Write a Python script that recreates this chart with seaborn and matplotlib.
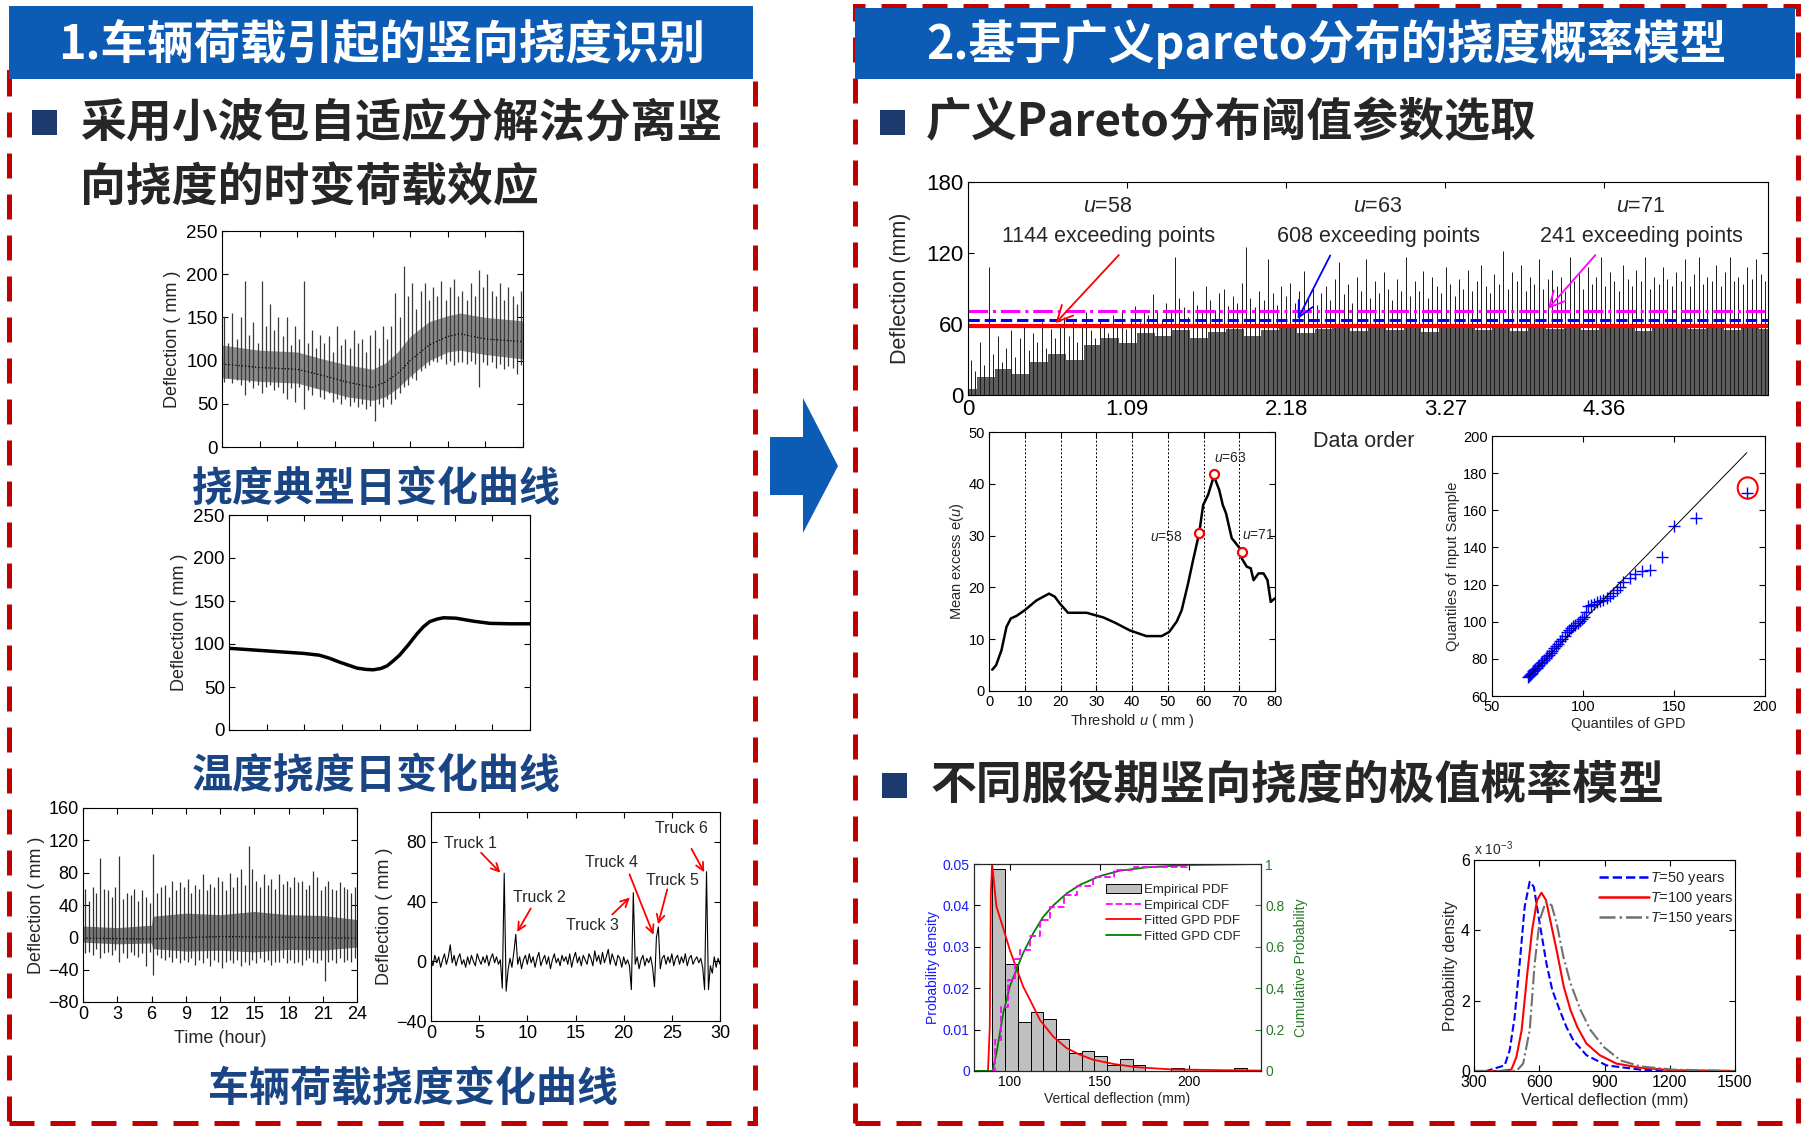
#Recreates the two-panel bridge deflection summary slide
import numpy as np
import matplotlib
matplotlib.use("Agg")
from matplotlib import pyplot as plt
import matplotlib.patches as mpatches
from matplotlib.lines import Line2D
import seaborn as sns

#------------------------------------------------
#values

#typical daily deflection (top left), 24 h
day_trend_t = [0, 3, 6, 8, 10, 12, 13, 14, 15, 16.5, 18, 19, 21, 24]
day_trend_v = [96, 92, 90, 83, 75, 69, 75, 85, 100, 118, 128, 131, 125, 122]
day_band_lo = [80, 76, 74, 66, 58, 54, 58, 68, 82, 100, 110, 112, 107, 102]
day_band_hi = [118, 112, 110, 102, 95, 90, 97, 110, 128, 145, 152, 155, 150, 146]
day_spike_hi = [150, 120, 155, 125, 150, 192, 130, 145, 120, 192, 140, 165,
                135, 150, 128, 150, 118, 140, 125, 192, 120, 135, 115, 130,
                120, 128, 110, 140, 118, 125, 115, 135, 120, 125, 110, 130,
                135, 115, 140, 125, 140, 178, 150, 210, 175, 190, 160, 180,
                190, 170, 185, 175, 192, 170, 185, 195, 175, 180, 170, 190,
                175, 205, 185, 200, 180, 175, 190, 170, 185, 175, 165, 180]
day_spike_lo = [75, 80, 74, 78, 72, 60, 75, 68, 72, 62, 70, 72,
                66, 70, 62, 55, 68, 52, 70, 44, 66, 60, 68, 58,
                56, 62, 52, 55, 50, 56, 48, 52, 46, 50, 44, 48,
                30, 50, 46, 55, 50, 56, 62, 70, 72, 80, 78, 88,
                92, 95, 100, 98, 102, 96, 100, 95, 98, 98, 96, 100,
                96, 70, 98, 95, 98, 92, 96, 90, 94, 92, 85, 95]

#temperature deflection (middle left)
temp_t = [0, 1.5, 3, 4.5, 6, 7.2, 8.0, 8.8, 9.5, 10.2, 10.9, 11.5, 12.1, 12.6,
          13.1, 13.6, 14.3, 15.0, 15.5, 16.0, 16.6, 17.1, 18.1, 19.5, 20.8, 22.4, 24]
temp_v = [95, 93.5, 92, 90.5, 89, 87, 83.5, 79, 75.5, 72, 70.5, 70, 71.5, 74.5,
          80.5, 87, 99, 112, 120, 126, 129, 130.5, 130, 126.5, 124, 123.5, 123.5]

#vehicle deflection over 24 h (bottom left)
veh_trend_t = [0, 6, 12, 18, 24]
veh_trend_v = [-1, -2, 1, 0, -1]
veh_band_t = [0, 3, 6, 6.1, 9, 12, 15, 18, 21, 24]
veh_band_lo = [-6, -8, -7, -14, -17, -16, -18, -15, -16, -12]
veh_band_hi = [14, 12, 15, 26, 30, 28, 32, 28, 27, 22]
veh_spike_hi = [60, 45, 62, 55, 98, 60, 58, 50, 62, 101, 48, 55,
                52, 60, 45, 58, 50, 42, 103, 55, 62, 65, 50, 70,
                58, 68, 62, 72, 55, 65, 60, 78, 58, 66, 62, 75,
                70, 58, 80, 62, 75, 85, 65, 113, 84, 70, 62, 78,
                65, 72, 60, 78, 66, 70, 62, 75, 68, 70, 60, 65,
                82, 75, 58, 63, 70, 60, 59, 68, 62, 60, 55, 62]
veh_spike_lo = [-20, -18, -22, -15, -25, -20, -18, -22, -16, -30, -20, -25,
                -18, -22, -24, -20, -35, -18, -46, -22, -25, -28, -24, -30,
                -26, -32, -28, -30, -25, -34, -28, -32, -26, -36, -28, -30,
                -38, -30, -28, -32, -28, -35, -30, -34, -28, -32, -26, -30,
                -28, -34, -30, -30, -26, -32, -28, -32, -30, -34, -28, -26,
                -30, -32, -28, -54, -30, -28, -32, -26, -30, -28, -30, -25]

#30 s record with truck passages (bottom left), one value every 0.2 s
truck_v = [2, -3, 4, -1, 3, -4, 1, 5, -2, 3,
           11, -1, 4, -3, 2, 5, -2, 1, -4, 3,
           -2, 4, 0, -3, 5, 1, -2, 3, -1, 4,
           -3, 2, 5, -1, 3, -2, 1, -18, 59, -20,
           -6, 2, -4, 6, 18, -2, 3, -5, 1, 4,
           -2, 5, -1, 3, -4, 2, 6, -3, 1, 4,
           -2, 3, -5, 1, 5, -1, 2, -3, 4, 0,
           3, -2, 5, -4, 2, 6, -1, 3, -3, 4,
           1, -2, 5, 2, -3, 7, 0, 4, -2, 6,
           -1, 3, 8, -2, 5, 1, -3, 4, 2, -4,
           3, -2, 1, -3, -19, 46, -2, 3, -5, 1,
           4, -3, 2, -1, 3, -4, -17, 16, 23, -5,
           2, 4, -2, 3, -1, 5, -3, 2, 4, -2,
           3, -1, 5, -3, 2, 4, -2, 1, 3, -1,
           2, -4, -19, 60, -19, -3, -8, 3, -4, 2,
           -2]
truck_names = ["Truck 1", "Truck 2", "Truck 3", "Truck 4", "Truck 5", "Truck 6"]
truck_text_xy = [(4.1, 79), (11.3, 43), (16.8, 24), (18.7, 66), (25.1, 54), (26.0, 89)]
truck_tail = [(5.0, 74), (10.5, 37), (18.6, 30), (20.5, 60), (24.6, 50), (26.9, 77)]
truck_head = [(7.4, 58), (8.8, 18), (20.85, 44), (23.2, 16), (23.5, 23), (28.5, 58)]

#data order record for threshold selection (top right)
order_max = 5.48
order_ticks = [0, 1.09, 2.18, 3.27, 4.36]
order_floor_v = [5, 15, 22, 18, 28, 35, 30, 42, 48, 44, 52, 50, 55, 48, 53, 56,
                 50, 55, 57, 52, 56, 58, 54, 57, 55, 58, 53, 57, 59, 55, 57, 54,
                 58, 56, 59, 55, 57, 58, 54, 57, 59, 56, 58, 55, 57, 56]
order_spikes = [30, 20, 45, 25, 108, 35, 50, 28, 40, 55, 32, 48, 60, 38, 52, 45, 62, 40, 56, 48,
                58, 66, 50, 62, 45, 60, 70, 55, 48, 64, 58, 52, 68, 60, 72, 56, 65, 75, 62, 70,
                68, 85, 72, 64, 78, 70, 117, 82, 74, 66, 88, 76, 70, 92, 80, 72, 86, 90, 75, 84,
                78, 95, 125, 82, 74, 88, 80, 115, 86, 76, 92, 84, 95, 78, 88, 105, 82, 90, 76, 86,
                92, 80, 98, 112, 85, 94, 78, 100, 88, 115, 82, 96, 86, 104, 90, 80, 98, 88, 117, 84,
                96, 88, 105, 82, 100, 92, 86, 108, 94, 84, 98, 90, 106, 88, 96, 110, 92, 86, 102, 94,
                122, 90, 104, 96, 110, 88, 100, 94, 115, 90, 98, 106, 92, 100, 88, 117, 96, 102, 90, 108,
                94, 100, 117, 92, 104, 96, 88, 110, 98, 92, 106, 96, 117, 90, 100, 94, 108, 98, 92, 104,
                96, 115, 92, 102, 117, 94, 100, 96, 110, 92, 104, 117, 96, 100, 94, 108, 98, 115, 102, 96]
thresholds = [58, 63, 71]
thr_counts = [1144, 608, 241]
thr_text_x = [0.96, 2.81, 4.61]
thr_tail = [(1.046, 120), (2.49, 120), (4.31, 120)]
thr_head = [(0.587, 59), (2.25, 62), (3.96, 71)]

#mean excess curve
me_u = [0.9, 2, 3.5, 4.9, 6.1, 7.7, 10, 13.3, 16.8, 18.4, 19.8, 22.1, 27.3, 32, 35.2,
        39.4, 44, 48.3, 50.4, 52.5, 53.9, 55.7, 57.1, 58.8, 59.9, 61.3, 62.9, 64.4,
        65.4, 66.3, 67.9, 70.2, 70.7, 72.1, 73.2, 74, 75.4, 76.8, 77.9, 78.8, 80]
me_e = [4.1, 5, 7.9, 12.4, 14, 14.5, 15.6, 17.5, 18.8, 18.2, 16.9, 15.1, 15.1, 14.2, 13.2,
        11.7, 10.6, 10.6, 11.4, 13.4, 15.6, 20.8, 25.3, 30.5, 35.9, 37.9, 41.5, 38.8,
        35.9, 34.3, 29.5, 27.5, 25.6, 24, 23.7, 21.4, 22.7, 22.7, 21.4, 17.2, 17.9]
me_pick_u = [58.8, 62.9, 70.8]
me_pick_e = [30.5, 41.9, 26.9]

#QQ plot against the GPD
qq_x = [70, 70.5, 71, 71.5, 72, 72.6, 73.2, 73.8, 74.5, 75.2, 76, 76.8, 77.6, 78.5, 79.4,
        80.3, 81.2, 82.2, 83.2, 84.2, 85.3, 86.4, 87.5, 88.7, 89.9, 91, 92.2, 93.4, 94.6,
        95.8, 97, 98.2, 99.4, 100.6, 101.8, 103, 104.3, 105.8, 107.6, 109.4, 111.2, 113,
        114.9, 116.7, 118.5, 120.4, 122.2, 125.9, 128.6, 132.3, 136.8, 143.6, 150.2, 162.1, 189.9]
qq_y = [70.5, 71, 71.5, 72, 72.6, 73.2, 73.8, 74.5, 75.2, 76, 76.8, 77.6, 78.5, 79.4, 80.3,
        81.3, 82.3, 83.3, 84.4, 85.6, 86.8, 88, 89.4, 90.8, 92.5, 94.3, 95.5, 96.6, 97.6,
        98.5, 99.4, 100.3, 101.2, 102.4, 105.3, 108.5, 109.2, 109.8, 110.4, 111, 111.8, 112.8,
        114, 115.5, 117, 118.5, 121.5, 123.5, 125.5, 127.4, 127.8, 135, 151.7, 156, 169.2]
qq_ref_x = [70, 190]
qq_ref_y = [70.5, 191]

#GPD fit of the exceedances
hist_start = 90.3
hist_bin = 7.1
hist_h = [0.0487, 0.0258, 0.0118, 0.0142, 0.0125, 0.0077, 0.0044, 0.0049, 0.0036, 0.0014,
          0.0028, 0.0014, 0, 0, 0.0008, 0.0006, 0, 0, 0, 0.0008]
pdf_x = [80, 87.8, 88.8, 89.4, 90.1, 92.5, 96.3, 100, 103.7, 107.4, 111.2, 116.8, 124.2,
         131.7, 139.2, 146.6, 157.8, 170.9, 189.5, 217.5, 240]
pdf_y = [0, 0, 0.0107, 0.043, 0.05, 0.0397, 0.0345, 0.0292, 0.0248, 0.0204, 0.0172, 0.0123,
         0.0083, 0.0055, 0.0039, 0.0027, 0.0017, 0.0009, 0.0004, 0.0002, 0.0001]
cdf_x = [80, 90.3, 92.5, 96.3, 100, 103.7, 107.4, 113, 118.6, 124.2, 131.7, 139.2, 150.3,
         161.5, 176.5, 198.8, 240]
cdf_y = [0, 0, 0.085, 0.28, 0.41, 0.49, 0.57, 0.665, 0.745, 0.80, 0.858, 0.90, 0.942,
         0.968, 0.984, 0.995, 1]
ecdf_x = [90.3, 91.6, 95.3, 99, 102.7, 105.5, 111.2, 116.8, 122.4, 129.9, 137.4, 146.6,
          157.8, 169, 198.8]
ecdf_y = [0, 0.15, 0.31, 0.44, 0.54, 0.585, 0.65, 0.73, 0.79, 0.85, 0.894, 0.936, 0.97, 0.987, 1]

#extreme value densities for service periods (x 1e-3)
ev50_x = [300, 356.8, 441, 464, 487, 510, 533, 556, 575, 602, 633, 660, 694, 725, 757, 817, 909, 1063, 1216, 1500]
ev50_y = [0, 0, 0.16, 0.59, 1.54, 3.06, 4.67, 5.38, 5.24, 4.2, 3.06, 2.30, 1.73, 1.25, 0.87, 0.45, 0.16, 0.04, 0, 0]
ev100_x = [300, 418, 472, 495, 519, 545, 567, 590, 610, 631, 657, 683, 713, 744, 775, 817, 878, 955, 1063, 1216, 1500]
ev100_y = [0, 0, 0.04, 0.4, 1.16, 2.77, 4.0, 4.86, 5.07, 4.86, 4.1, 3.34, 2.39, 1.73, 1.25, 0.78, 0.45, 0.21, 0.095, 0.02, 0]
ev150_x = [300, 495, 526, 556, 579, 602, 630, 657, 680, 711, 744, 790, 836, 897, 974, 1066, 1216, 1500]
ev150_y = [0, 0, 0.21, 1.16, 3.06, 4.29, 4.81, 4.71, 4.2, 3.25, 2.49, 1.73, 1.16, 0.68, 0.30, 0.13, 0.04, 0]
ev_labels = ["$T$=50 years", "$T$=100 years", "$T$=150 years"]

#------------------------------------------------
W, H = 1816, 1138
sns.set_style("ticks")
plt.rcParams['font.family'] = ['Liberation Sans', 'Noto Sans CJK SC', 'DejaVu Sans']
plt.rcParams['mathtext.fontset'] = 'custom'
plt.rcParams['mathtext.rm'] = 'Liberation Sans'
plt.rcParams['mathtext.it'] = 'Liberation Sans:italic'
plt.rcParams['axes.linewidth'] = 0.8

fig = plt.figure(figsize=(W / 100, H / 100), dpi=100)
fig.patch.set_facecolor('white')

CJK = 'Noto Sans CJK SC'
NAVY = '#1a4585'


def box(x0, y0, x1, y1):
    #axes from pixel corners of the slide
    return fig.add_axes([x0 / W, 1 - y1 / H, (x1 - x0) / W, (y1 - y0) / H])


def rect(x0, y0, x1, y1, **kw):
    fig.add_artist(mpatches.Rectangle((x0 / W, 1 - y1 / H), (x1 - x0) / W, (y1 - y0) / H,
                                      transform=fig.transFigure, **kw))


def ftext(x, y, s, **kw):
    fig.text(x / W, 1 - y / H, s, **kw)


def matlab(ax, size):
    ax.tick_params(direction='in', top=True, right=True, labelsize=size,
                   length=4, width=0.8, pad=3, colors='black')
    for s in ax.spines.values():
        s.set_color('black')
        s.set_linewidth(0.8)


#slide frame: dashed boxes, headers, arrow, bullets
dash = dict(fill=False, edgecolor='#c00000', lw=3.6, ls=(0, (5, 3.2)), zorder=1)
rect(9, 72, 755, 1123, **dash)
rect(855, 6, 1798, 1123, **dash)
rect(9, 6, 753, 79, facecolor='#0c5cb5', edgecolor='none', zorder=2)
rect(855, 8, 1795, 79, facecolor='#0c5cb5', edgecolor='none', zorder=2)
ftext(382, 44, '1.车辆荷载引起的竖向挠度识别', family=CJK, weight='heavy', size=33.5,
      color='white', ha='center', va='center', zorder=3)
ftext(1326, 44, '2.基于广义pareto分布的挠度概率模型', family=CJK, weight='heavy', size=33.5,
      color='white', ha='center', va='center', zorder=3)
arrow_px = [(770, 437), (803, 437), (803, 398), (838, 466), (803, 533), (803, 495), (770, 495)]
fig.add_artist(mpatches.Polygon([(x / W, 1 - y / H) for x, y in arrow_px], closed=True,
                                transform=fig.transFigure, facecolor='#0c5cb5', edgecolor='none'))
for bx, by in [(32, 110), (880, 110), (882, 773)]:
    rect(bx, by, bx + 25, by + 25, facecolor='#1c3a6e', edgecolor='none', zorder=2)
ftext(80, 123, '采用小波包自适应分解法分离竖', family=CJK, weight='heavy', size=33, va='center')
ftext(80, 188, '向挠度的时变荷载效应', family=CJK, weight='heavy', size=33, va='center')
ftext(926, 123, '广义Pareto分布阈值参数选取', family=CJK, weight='heavy', size=33, va='center')
ftext(930, 786, '不同服役期竖向挠度的极值概率模型', family=CJK, weight='heavy', size=33, va='center')

#------------------------------------------------
#top left: typical daily deflection
ax = box(222, 231, 523, 447)
spike_t = np.arange(len(day_spike_hi)) / 3 + 1 / 6
ax.fill_between(day_trend_t, day_band_lo, day_band_hi, color='#8a8a8a', lw=0)
ax.vlines(spike_t, day_spike_lo, day_spike_hi, color='#3a3a3a', lw=0.9)
sns.lineplot(x=day_trend_t, y=day_trend_v, ax=ax, color='black', lw=0.9, linestyle=':')
ax.set(xlim=(0, 24), ylim=(0, 250), xticks=range(0, 25, 3), yticks=range(0, 251, 50))
ax.set_xticklabels([])
ax.set_ylabel('Deflection ( mm )', fontsize=13)
matlab(ax, 13.5)
ftext(376, 489, '挠度典型日变化曲线', family=CJK, weight='heavy', size=29.5,
      color=NAVY, ha='center', va='center', zorder=3)

#middle left: temperature induced deflection
ax = box(229, 515, 530, 730)
sns.lineplot(x=temp_t, y=temp_v, ax=ax, color='black', lw=2.5)
ax.set(xlim=(0, 24), ylim=(0, 250), xticks=range(0, 25, 3), yticks=range(0, 251, 50))
ax.set_xticklabels([])
ax.set_ylabel('Deflection ( mm )', fontsize=13)
matlab(ax, 13.5)
ftext(376, 776, '温度挠度日变化曲线', family=CJK, weight='heavy', size=29.5,
      color=NAVY, ha='center', va='center', zorder=3)

#bottom left: vehicle deflection over a day
ax = box(83, 808, 357, 1002)
spike_t = np.arange(len(veh_spike_hi)) / 3 + 1 / 6
ax.fill_between(veh_band_t, veh_band_lo, veh_band_hi, color='#7a7a7a', lw=0)
ax.vlines(spike_t, veh_spike_lo, veh_spike_hi, color='#333333', lw=0.9)
sns.lineplot(x=veh_trend_t, y=veh_trend_v, ax=ax, color='black', lw=0.9, linestyle=':')
ax.set(xlim=(0, 24), ylim=(-80, 160), xticks=range(0, 25, 3), yticks=range(-80, 161, 40))
ax.set_xlabel('Time (hour)', fontsize=13, labelpad=5)
ax.set_ylabel('Deflection ( mm )', fontsize=13, labelpad=2)
matlab(ax, 13)

#bottom left: 30 s record with trucks
ax = box(431, 812, 720, 1021)
truck_t = np.arange(len(truck_v)) * 0.2
sns.lineplot(x=truck_t, y=truck_v, ax=ax, color='black', lw=0.8)
for name, txy, tail, head in zip(truck_names, truck_text_xy, truck_tail, truck_head):
    ax.text(txy[0], txy[1], name, fontsize=11.5, ha='center', va='center')
    ax.annotate('', xy=head, xytext=tail,
                arrowprops=dict(arrowstyle='->', color='red', lw=1.3, mutation_scale=14))
ax.set(xlim=(0, 30), ylim=(-40, 100), xticks=range(0, 31, 5), yticks=[-40, 0, 40, 80])
ax.set_ylabel('Deflection ( mm )', fontsize=13, labelpad=2)
matlab(ax, 13)
ftext(413, 1089, '车辆荷载挠度变化曲线', family=CJK, weight='heavy', size=29.5,
      color=NAVY, ha='center', va='center', zorder=3)

#------------------------------------------------
#top right: thresholds over the data order record
ax = box(968, 182, 1768, 395)
floor_x = np.linspace(0, order_max, len(order_floor_v))
spike_x = np.linspace(0.02, order_max - 0.02, len(order_spikes))
ax.fill_between(floor_x, 0, order_floor_v, color='#5c5c5c', lw=0, step='mid')
ax.vlines(spike_x, 0, order_spikes, color='#1a1a1a', lw=0.7)
ax.axhline(thresholds[2], color='magenta', lw=2.2, ls='-.')
ax.axhline(thresholds[1], color='blue', lw=2.2, ls='--')
ax.axhline(thresholds[0], color='red', lw=3)
arrow_cols = ['red', 'blue', 'magenta']
for u, n, tx, tail, head, c in zip(thresholds, thr_counts, thr_text_x, thr_tail, thr_head, arrow_cols):
    ax.text(tx, 159, f'$u$={u}', fontsize=15.5, ha='center', va='center')
    ax.text(tx, 134, f'{n} exceeding points', fontsize=15.5, ha='center', va='center')
    ax.annotate('', xy=head, xytext=tail,
                arrowprops=dict(arrowstyle='->', color=c, lw=1.3, mutation_scale=28))
ax.set(xlim=(0, order_max), ylim=(0, 180), xticks=order_ticks, yticks=[0, 60, 120, 180])
ax.set_xticklabels(['0', '1.09', '2.18', '3.27', '4.36'])
ax.set_xlabel('Data order', fontsize=15.5)
ax.xaxis.set_label_coords(0.495, -0.17)
ax.set_ylabel('Deflection (mm)', fontsize=15.5)
ax.yaxis.set_label_coords(-0.071, 0.5)
matlab(ax, 16)

#mean excess plot
ax = box(989, 432, 1275, 691)
for xv in range(10, 80, 10):
    ax.axvline(xv, color='black', lw=0.7, ls=(0, (2, 2)))
sns.lineplot(x=me_u, y=me_e, ax=ax, color='black', lw=1.8)
ax.plot(me_pick_u, me_pick_e, 'o', mfc='white', mec='red', mew=1.6, ms=6.5)
ax.text(49.7, 29.8, '$u$=58', fontsize=10, ha='center', va='center')
ax.text(67.4, 45, '$u$=63', fontsize=10, ha='center', va='center')
ax.text(75.2, 30.1, '$u$=71', fontsize=10, ha='center', va='center')
ax.set(xlim=(0, 80), ylim=(0, 50), xticks=range(0, 81, 10), yticks=range(0, 51, 10))
ax.set_xlabel('Threshold $u$ ( mm )', fontsize=10.5, labelpad=2)
ax.set_ylabel('Mean excess e($u$)', fontsize=10.5, labelpad=2)
matlab(ax, 10.5)

#QQ plot
ax = box(1492, 436, 1765, 696)
sns.lineplot(x=qq_ref_x, y=qq_ref_y, ax=ax, color='black', lw=0.7)
sns.scatterplot(x=qq_x, y=qq_y, ax=ax, marker='+', s=80, color='blue', linewidth=1)
ax.add_patch(mpatches.Ellipse((190.5, 172), 11, 11.5, fill=False, edgecolor='red', lw=1.5))
ax.set(xlim=(50, 200), ylim=(60, 200), xticks=[50, 100, 150, 200], yticks=range(60, 201, 20))
ax.set_xlabel('Quantiles of GPD', fontsize=10.5, labelpad=2)
ax.set_ylabel('Quantiles of Input Sample', fontsize=10.5, labelpad=2)
matlab(ax, 10.5)

#------------------------------------------------
#GPD fit: histogram with pdf and cdf
ax = box(974, 864, 1261, 1071)
lefts = hist_start + hist_bin * np.arange(len(hist_h))
ax.bar(lefts, hist_h, width=hist_bin, align='edge', color='#bfbfbf', edgecolor='black', lw=0.7)
sns.lineplot(x=pdf_x, y=pdf_y, ax=ax, color='red', lw=1.3)
ax.set(xlim=(80, 240), ylim=(0, 0.05), xticks=[100, 150, 200],
       yticks=[0, 0.01, 0.02, 0.03, 0.04, 0.05])
ax.set_yticklabels(['0', '0.01', '0.02', '0.03', '0.04', '0.05'])
ax.set_xlabel('Vertical deflection (mm)', fontsize=10, labelpad=2)
ax.set_ylabel('Probability density', fontsize=10, color='#1a1aff', labelpad=2)
matlab(ax, 10)
ax.tick_params(axis='y', labelcolor='#1a1aff', right=False, labelright=False)
ax2 = ax.twinx()
sns.lineplot(x=cdf_x, y=cdf_y, ax=ax2, color='green', lw=1.3)
sns.lineplot(x=ecdf_x, y=ecdf_y, ax=ax2, color='magenta', lw=1.3, linestyle='--', drawstyle='steps-post')
ax2.set(ylim=(0, 1), yticks=[0, 0.2, 0.4, 0.6, 0.8, 1])
ax2.set_yticklabels(['0', '0.2', '0.4', '0.6', '0.8', '1'])
ax2.set_ylabel('Cumulative Probability', fontsize=10, color='#267a26', labelpad=7)
ax2.tick_params(direction='in', labelsize=10, length=4, width=0.8, pad=3,
                colors='#267a26')
handles = [mpatches.Patch(facecolor='#bfbfbf', edgecolor='black', lw=0.7),
           Line2D([], [], color='magenta', ls='--', lw=1.3),
           Line2D([], [], color='red', lw=1.3),
           Line2D([], [], color='green', lw=1.3)]
ax2.legend(handles, ['Empirical PDF', 'Empirical CDF', 'Fitted GPD PDF', 'Fitted GPD CDF'],
           loc='upper left', bbox_to_anchor=(0.44, 0.93), frameon=False, fontsize=9.5,
           handlelength=2.7, handletextpad=0.2, labelspacing=0.25, borderaxespad=0)

#extreme value densities
ax = box(1474, 860, 1735, 1071)
ev50_s = np.array(ev50_y) * 1e-3
ev100_s = np.array(ev100_y) * 1e-3
ev150_s = np.array(ev150_y) * 1e-3
sns.lineplot(x=ev50_x, y=ev50_s, ax=ax, color='blue', lw=1.5, linestyle='--')
sns.lineplot(x=ev100_x, y=ev100_s, ax=ax, color='red', lw=1.5)
sns.lineplot(x=ev150_x, y=ev150_s, ax=ax, color='#707070', lw=1.5, linestyle='-.')
handles = [Line2D([], [], color='blue', ls='--', lw=1.8),
           Line2D([], [], color='red', lw=1.8),
           Line2D([], [], color='#707070', ls='-.', lw=1.8)]
ax.legend(handles, ev_labels, loc='upper left', bbox_to_anchor=(0.44, 1.0), frameon=False,
          fontsize=10.5, handlelength=3.4, handletextpad=0.1, labelspacing=0.2, borderaxespad=0.3)
ax.set(xlim=(300, 1500), ylim=(0, 0.006), xticks=range(300, 1501, 300),
       yticks=[0, 0.002, 0.004, 0.006])
ax.set_yticklabels(['0', '2', '4', '6'])
ax.text(0.0, 1.01, 'x 10$^{-3}$', transform=ax.transAxes, fontsize=10, va='bottom')
ax.set_xlabel('Vertical deflection (mm)', fontsize=11.5, labelpad=2)
ax.set_ylabel('Probability density', fontsize=11.5, labelpad=2)
matlab(ax, 11.5)

fig.savefig('out.png', dpi=100)
